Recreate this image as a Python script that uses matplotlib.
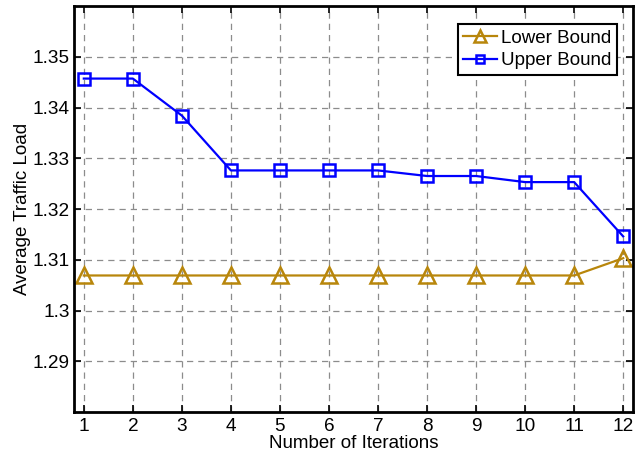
import matplotlib
matplotlib.use("Agg")
import matplotlib.pyplot as plt

plt.rcParams['font.family'] = ['Liberation Sans', 'DejaVu Sans']

iterations = [1, 2, 3, 4, 5, 6, 7, 8, 9, 10, 11, 12]
lower_bound = [1.3069, 1.3069, 1.3069, 1.3069, 1.3069, 1.3069,
               1.3069, 1.3069, 1.3069, 1.3069, 1.3069, 1.3103]
upper_bound = [1.3457, 1.3457, 1.3384, 1.3276, 1.3276, 1.3276,
               1.3276, 1.3265, 1.3265, 1.3253, 1.3253, 1.3146]
y_ticks = [1.29, 1.30, 1.31, 1.32, 1.33, 1.34, 1.35]
y_labels = ['1.29', '1.3', '1.31', '1.32', '1.33', '1.34', '1.35']

fig = plt.figure(figsize=(6.35, 4.59), dpi=100)
ax = fig.add_axes([74 / 635, 1 - 412 / 459, (633 - 74) / 635, (412 - 6) / 459])

ax.plot(iterations, lower_bound, color='#b8860b', lw=1.6, marker='^',
        ms=11, mfc='none', mew=1.8, label='Lower Bound')
ax.plot(iterations, upper_bound, color='#0000ff', lw=1.6, marker='s',
        ms=8.5, mfc='none', mew=1.8, label='Upper Bound')

ax.set_xlim(0.8, 12.2)
ax.set_ylim(1.28, 1.36)
ax.set_xticks(iterations)
ax.set_yticks(y_ticks)
ax.set_yticklabels(y_labels)
ax.tick_params(direction='in', top=True, right=True, length=5, width=1.2,
               labelsize=13.7)
ax.tick_params(axis='x', pad=4)
ax.tick_params(axis='y', pad=3)
for s in ax.spines.values():
    s.set_linewidth(2)
ax.grid(True, ls=(0, (5, 4)), color='#8c8c8c', lw=0.9)

ax.set_xlabel('Number of Iterations', fontsize=13.5, labelpad=0)
ax.set_ylabel('Average Traffic Load', fontsize=13.5, labelpad=1)

leg = ax.legend(loc='upper right', bbox_to_anchor=(0.971, 0.956),
                borderaxespad=0, fontsize=13.5,
                fancybox=False, edgecolor='black', framealpha=1,
                handlelength=1.8, handletextpad=0.2, borderpad=0.3,
                labelspacing=0.3, markerscale=0.75)
leg.get_frame().set_linewidth(1.5)

fig.savefig('out.png', dpi=100)
